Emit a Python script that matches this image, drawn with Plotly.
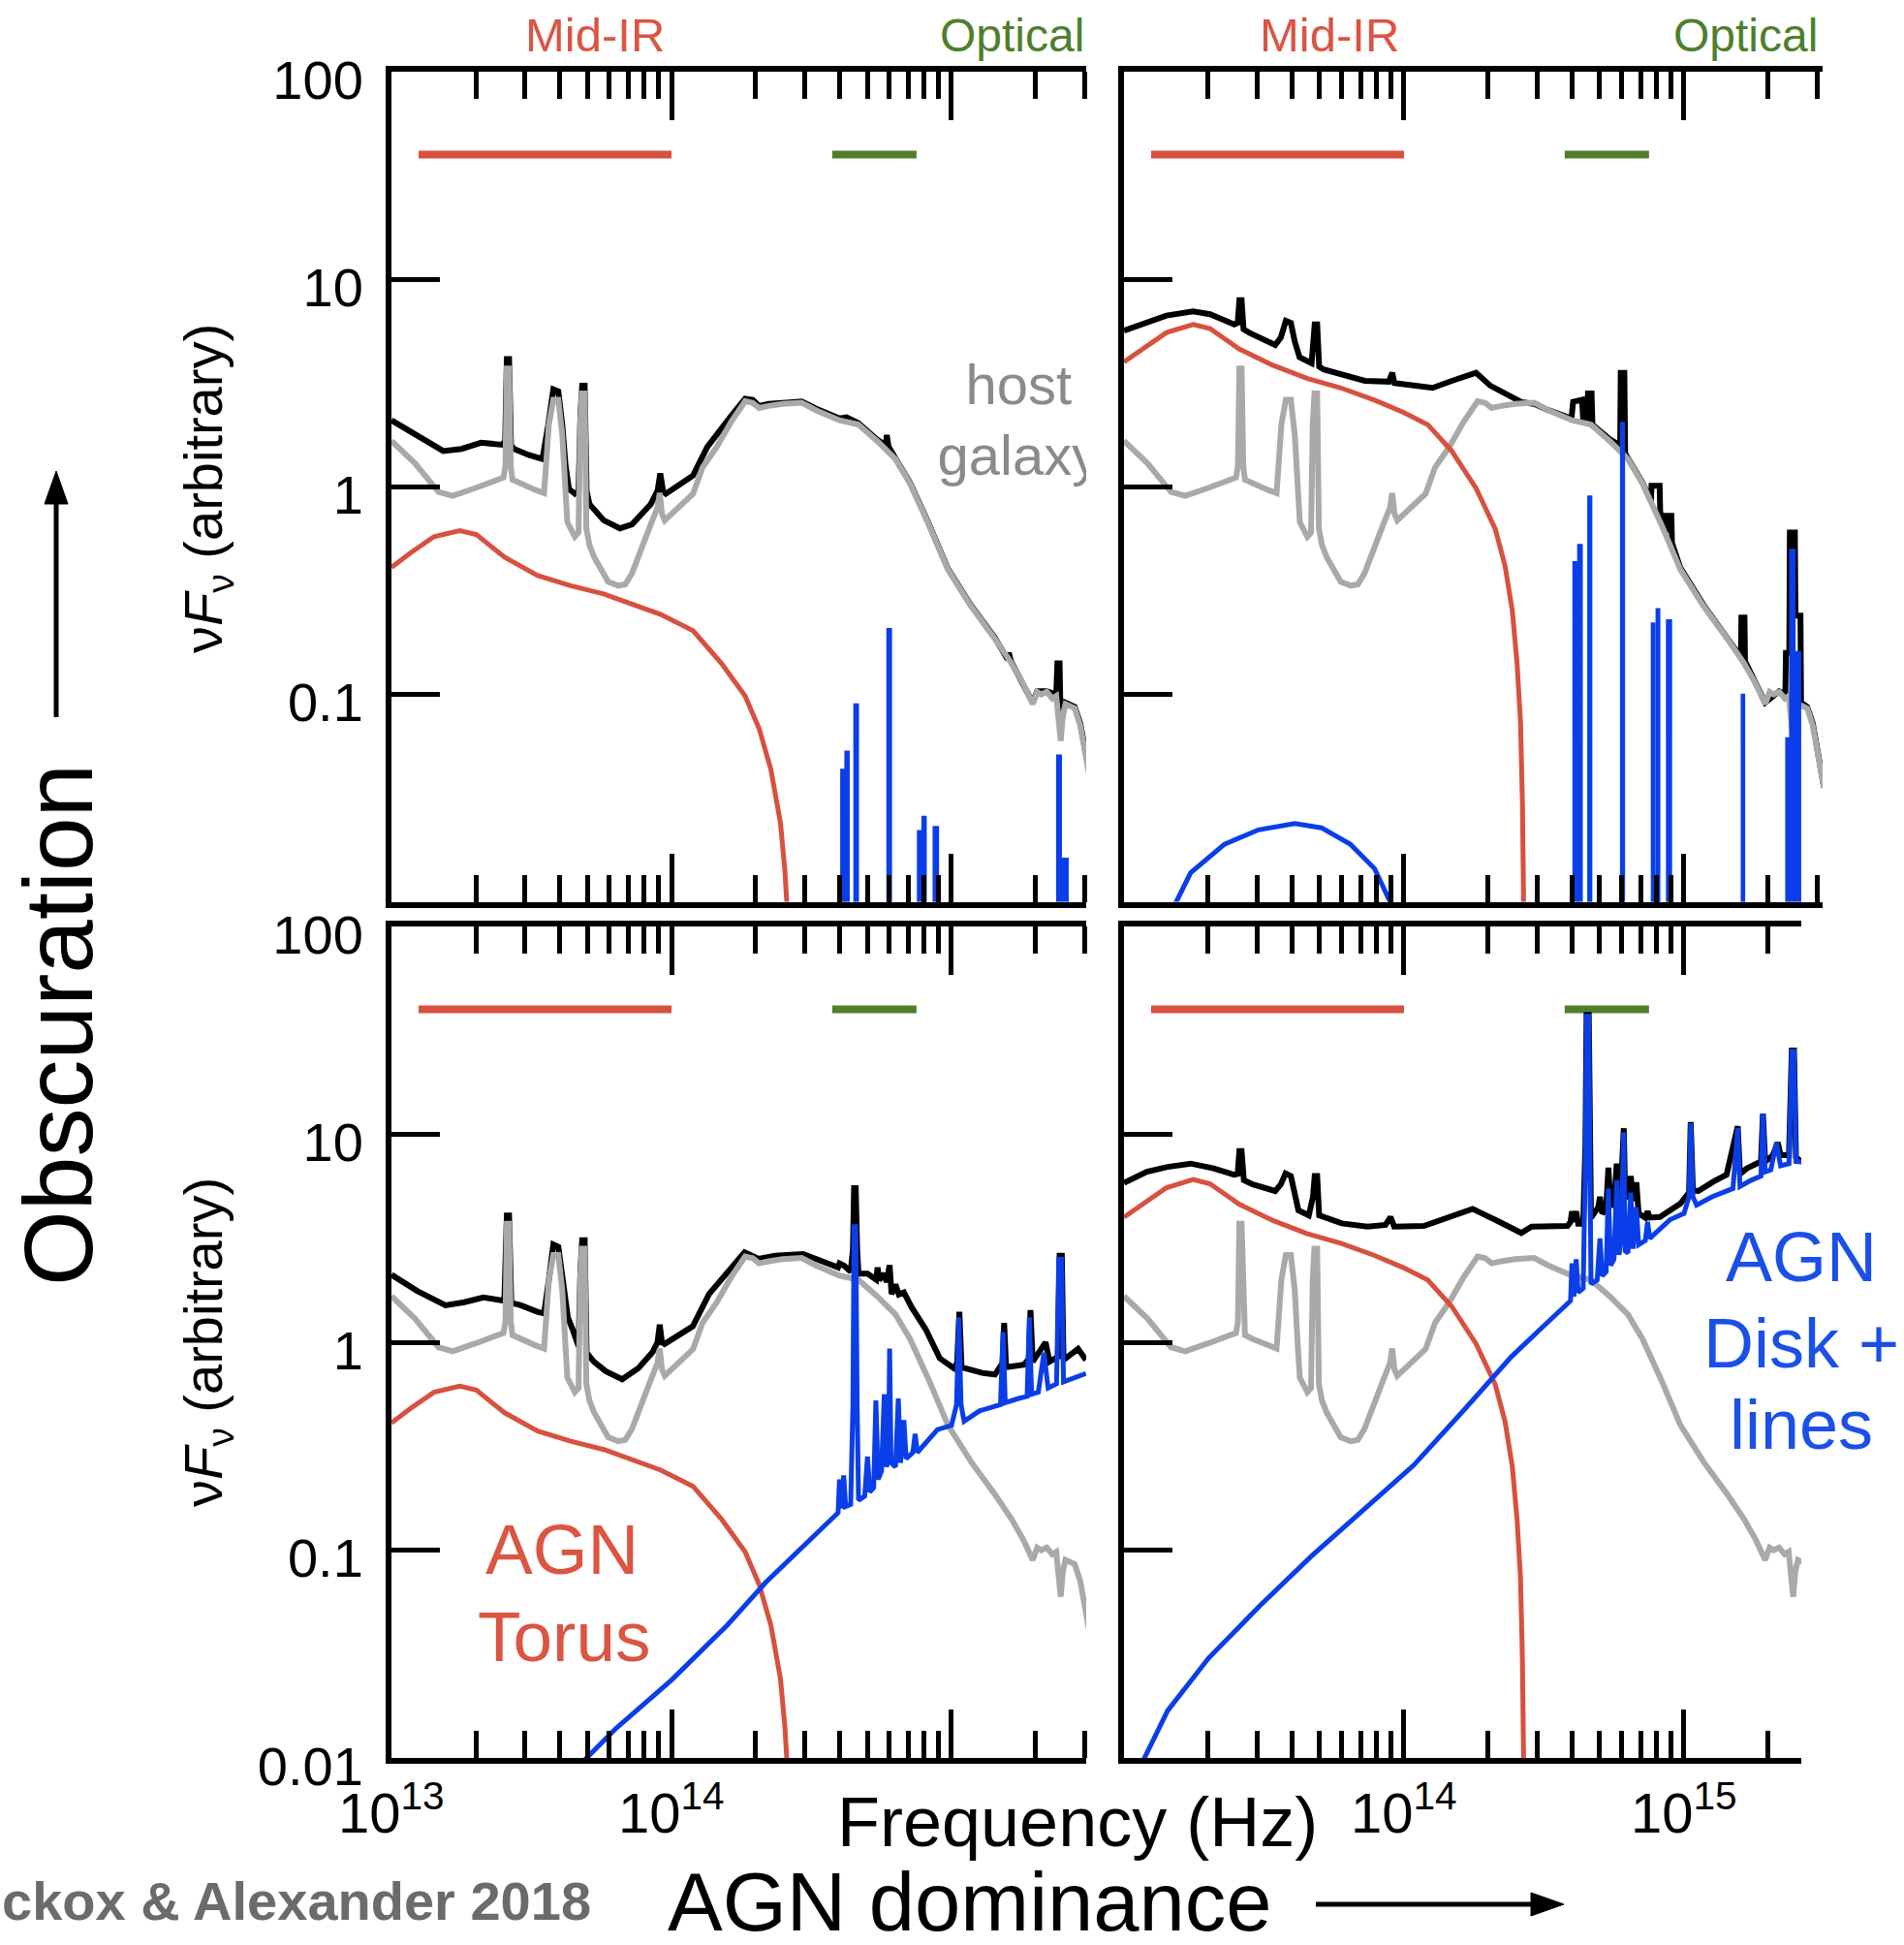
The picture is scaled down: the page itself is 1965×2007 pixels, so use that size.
import numpy as np
import plotly.graph_objects as go

# ---------------- DATA (log10 frequency [Hz], log10 nuF_nu [arbitrary]) ----------------
host_lognu = [13.000, 13.084, 13.168, 13.219, 13.303, 13.370, 13.400, 13.407, 13.412, 13.420, 13.426, 13.432,
              13.460, 13.513, 13.545, 13.562, 13.578, 13.596, 13.610, 13.620, 13.628, 13.655, 13.668, 13.674,
              13.680, 13.690, 13.696, 13.707, 13.724, 13.774, 13.810, 13.835, 13.859, 13.926, 13.950, 13.958,
              13.966, 13.976, 14.027, 14.077, 14.111, 14.162, 14.212, 14.263, 14.290, 14.313, 14.347, 14.397,
              14.465, 14.515, 14.600, 14.667, 14.734, 14.800, 14.852, 14.919, 14.987, 15.070, 15.155, 15.214,
              15.256, 15.290, 15.306, 15.320, 15.340, 15.360, 15.374, 15.383, 15.390, 15.398, 15.407, 15.440,
              15.460, 15.483, 15.500]
host_logf = [0.222, 0.114, -0.024, -0.043, -0.004, 0.035, 0.045, 0.10, 0.57, 0.57, 0.10, 0.035,
             0.016, -0.014, -0.030, 0.30, 0.42, 0.42, 0.25, 0.00, -0.17, -0.24, -0.22, 0.30,
             0.45, 0.45, -0.20, -0.28, -0.339, -0.457, -0.476, -0.470, -0.417, -0.181, -0.100, -0.03,
             -0.13, -0.161, -0.093, -0.033, 0.094, 0.193, 0.311, 0.413, 0.405, 0.380, 0.390, 0.400,
             0.406, 0.370, 0.321, 0.301, 0.222, 0.134, 0.016, -0.181, -0.398, -0.575, -0.732, -0.850,
             -0.949, -1.047, -0.988, -1.000, -0.988, -1.020, -1.008, -1.150, -1.224, -1.100, -1.047, -1.067,
             -1.150, -1.323, -1.450]

torus_lo_lognu = [13.000, 13.067, 13.152, 13.244, 13.303, 13.404, 13.522, 13.640, 13.758, 13.859, 13.960,
                  14.077, 14.178, 14.263, 14.313, 14.355, 14.389, 14.405, 14.416]
torus_lo_logf = [-0.388, -0.319, -0.240, -0.211, -0.230, -0.339, -0.427, -0.476, -0.516, -0.565, -0.614,
                 -0.693, -0.850, -1.008, -1.165, -1.362, -1.618, -1.850, -2.100]

torus_hi_lognu = [13.000, 13.066, 13.152, 13.247, 13.307, 13.411, 13.532, 13.653, 13.774, 13.895, 13.998,
                  14.085, 14.171, 14.257, 14.326, 14.361, 14.387, 14.404, 14.416, 14.423, 14.428]
torus_hi_logf = [0.602, 0.665, 0.744, 0.783, 0.763, 0.665, 0.586, 0.523, 0.477, 0.418, 0.359,
                 0.300, 0.172, -0.006, -0.203, -0.381, -0.598, -0.854, -1.130, -1.525, -2.100]

# top-left panel: total and emission lines
tl_total_lognu = [13.000, 13.084, 13.185, 13.250, 13.320, 13.396, 13.406, 13.412, 13.420, 13.427, 13.438, 13.490,
                  13.539, 13.560, 13.578, 13.596, 13.610, 13.622, 13.634, 13.655, 13.668, 13.675, 13.681, 13.690,
                  13.697, 13.707, 13.758, 13.816, 13.859, 13.926, 13.950, 13.960, 13.970, 13.980, 14.077, 14.128,
                  14.170, 14.212, 14.263, 14.290, 14.313, 14.347, 14.397, 14.465, 14.515, 14.600, 14.625, 14.667,
                  14.734, 14.765, 14.769, 14.775, 14.800, 14.852, 14.919, 14.987, 15.070, 15.155, 15.200, 15.205,
                  15.212, 15.256, 15.290, 15.306, 15.340, 15.374, 15.378, 15.386, 15.390, 15.398, 15.407, 15.440,
                  15.460, 15.483]
tl_total_logf = [0.321, 0.252, 0.173, 0.183, 0.213, 0.203, 0.220, 0.616, 0.616, 0.200, 0.183, 0.154,
                 0.134, 0.300, 0.470, 0.460, 0.300, 0.100, -0.010, -0.033, -0.020, 0.350, 0.488, 0.488,
                 -0.020, -0.083, -0.161, -0.200, -0.181, -0.083, -0.020, 0.065, -0.020, -0.033, 0.055, 0.193,
                 0.270, 0.340, 0.425, 0.420, 0.390, 0.400, 0.405, 0.412, 0.378, 0.330, 0.335, 0.308,
                 0.228, 0.200, 0.250, 0.195, 0.137, 0.020, -0.178, -0.395, -0.572, -0.728, -0.830, -0.800,
                 -0.840, -0.945, -1.040, -0.985, -0.985, -1.000, -0.850, -0.850, -1.150, -1.090, -1.040, -1.060,
                 -1.140, -1.310]
tl_line_lo = [14.605, 14.620, 14.652, 14.770, 14.879, 14.895, 14.935, 15.376, 15.395]
tl_line_hi = [14.618, 14.634, 14.667, 14.785, 14.893, 14.909, 14.953, 15.392, 15.416]
tl_line_peak = [-1.362, -1.274, -1.047, -0.683, -1.657, -1.589, -1.638, -1.293, -1.790]

# top-right panel
tr_total_lognu = [13.000, 13.066, 13.152, 13.247, 13.307, 13.394, 13.406, 13.412, 13.420, 13.427, 13.446, 13.540,
                  13.560, 13.578, 13.596, 13.610, 13.627, 13.670, 13.675, 13.681, 13.690, 13.697, 13.713, 13.791,
                  13.860, 13.946, 13.958, 13.966, 14.102, 14.171, 14.257, 14.309, 14.378, 14.421, 14.465, 14.515,
                  14.598, 14.604, 14.636, 14.640, 14.655, 14.657, 14.670, 14.673, 14.734, 14.772, 14.774, 14.787,
                  14.790, 14.852, 14.882, 14.884, 14.913, 14.915, 14.936, 14.938, 14.955, 14.957, 14.987, 15.070,
                  15.155, 15.203, 15.205, 15.216, 15.218, 15.256, 15.290, 15.340, 15.362, 15.364, 15.376, 15.378,
                  15.396, 15.398, 15.416, 15.418, 15.440, 15.460, 15.500]
tr_total_logf = [0.753, 0.783, 0.826, 0.846, 0.832, 0.783, 0.790, 0.900, 0.900, 0.760, 0.744, 0.684,
                 0.720, 0.800, 0.790, 0.700, 0.625, 0.596, 0.700, 0.783, 0.783, 0.580, 0.566, 0.536,
                 0.511, 0.507, 0.550, 0.500, 0.477, 0.511, 0.550, 0.487, 0.438, 0.408, 0.400, 0.370,
                 0.330, 0.410, 0.420, 0.320, 0.310, 0.450, 0.450, 0.300, 0.230, 0.200, 0.550, 0.550,
                 0.160, 0.020, -0.070, 0.005, 0.005, -0.120, -0.220, -0.140, -0.140, -0.270, -0.390, -0.570,
                 -0.730, -0.820, -0.630, -0.630, -0.840, -0.945, -1.040, -0.985, -1.000, -0.800, -0.800, -0.220,
                 -0.220, -0.620, -0.620, -1.040, -1.060, -1.140, -1.450]
tr_disk_lognu = [13.150, 13.238, 13.359, 13.480, 13.610, 13.705, 13.808, 13.895, 13.985]
tr_disk_logf = [-2.100, -1.860, -1.722, -1.653, -1.623, -1.643, -1.722, -1.840, -2.100]
tr_line_lo = [14.604, 14.621, 14.657, 14.774, 14.884, 14.901, 14.938, 15.205, 15.364, 15.378, 15.398]
tr_line_hi = [14.619, 14.636, 14.670, 14.787, 14.895, 14.913, 14.955, 15.216, 15.376, 15.396, 15.416]
tr_line_peak = [-0.361, -0.278, -0.045, 0.310, -0.657, -0.588, -0.641, -1.000, -1.210, -0.302, -0.795]

# bottom-left panel
bl_total_lognu = [13.000, 13.092, 13.193, 13.260, 13.328, 13.403, 13.412, 13.420, 13.428, 13.462, 13.521, 13.545,
                  13.562, 13.578, 13.596, 13.612, 13.630, 13.647, 13.668, 13.675, 13.681, 13.690, 13.697, 13.723,
                  13.765, 13.824, 13.882, 13.933, 13.950, 13.958, 13.966, 13.975, 14.076, 14.134, 14.202, 14.261,
                  14.311, 14.370, 14.470, 14.538, 14.595, 14.600, 14.615, 14.640, 14.648, 14.652, 14.658, 14.663,
                  14.668, 14.700, 14.731, 14.736, 14.742, 14.760, 14.768, 14.779, 14.786, 14.800, 14.812, 14.830,
                  14.857, 14.908, 14.958, 15.008, 15.020, 15.028, 15.036, 15.065, 15.109, 15.155, 15.182, 15.188,
                  15.195, 15.259, 15.276, 15.282, 15.290, 15.336, 15.350, 15.380, 15.386, 15.394, 15.400, 15.452,
                  15.480]
bl_total_logf = [0.325, 0.247, 0.178, 0.193, 0.216, 0.200, 0.610, 0.610, 0.190, 0.178, 0.147, 0.139,
                 0.300, 0.471, 0.460, 0.300, 0.120, 0.062, -0.020, 0.350, 0.491, 0.491, -0.050, -0.093,
                 -0.139, -0.178, -0.124, -0.046, 0.000, 0.085, 0.000, -0.008, 0.077, 0.232, 0.340, 0.433,
                 0.402, 0.417, 0.425, 0.386, 0.360, 0.380, 0.370, 0.340, 0.450, 0.742, 0.742, 0.450,
                 0.330, 0.330, 0.301, 0.360, 0.300, 0.330, 0.290, 0.371, 0.232, 0.278, 0.230, 0.240,
                 0.170, 0.062, -0.077, -0.124, -0.100, 0.147, -0.120, -0.131, -0.147, -0.155, -0.100, 0.093,
                 -0.120, -0.108, -0.080, 0.155, -0.093, 0.000, -0.093, -0.070, 0.417, 0.417, -0.085, -0.031,
                 -0.085]
bl_disk_lognu = [13.660, 13.800, 14.000, 14.200, 14.336, 14.500, 14.595, 14.600, 14.607, 14.615, 14.622, 14.640,
                 14.648, 14.652, 14.658, 14.663, 14.668, 14.690, 14.700, 14.708, 14.722, 14.730, 14.738, 14.750,
                 14.760, 14.768, 14.775, 14.779, 14.784, 14.800, 14.810, 14.818, 14.830, 14.838, 14.862, 14.870,
                 14.878, 14.950, 15.000, 15.018, 15.026, 15.034, 15.045, 15.100, 15.175, 15.184, 15.192, 15.240,
                 15.270, 15.278, 15.286, 15.310, 15.330, 15.345, 15.375, 15.383, 15.393, 15.400, 15.480]
bl_disk_logf = [-2.050, -1.860, -1.625, -1.360, -1.156, -0.940, -0.820, -0.660, -0.800, -0.640, -0.790, -0.780,
                -0.300, 0.556, 0.556, -0.300, -0.760, -0.740, -0.550, -0.720, -0.700, -0.280, -0.660, -0.620,
                -0.250, -0.600, -0.550, -0.030, -0.580, -0.600, -0.270, -0.580, -0.375, -0.560, -0.530, -0.440,
                -0.530, -0.420, -0.400, -0.300, 0.120, -0.300, -0.380, -0.330, -0.300, 0.050, -0.290, -0.270,
                -0.260, 0.120, -0.250, -0.240, -0.050, -0.220, -0.200, 0.400, 0.400, -0.190, -0.150]

# bottom-right panel
br_total_lognu = [13.000, 13.082, 13.156, 13.238, 13.320, 13.394, 13.406, 13.412, 13.420, 13.428, 13.460, 13.540,
                  13.560, 13.577, 13.596, 13.610, 13.623, 13.660, 13.675, 13.681, 13.690, 13.697, 13.778, 13.870,
                  13.934, 13.952, 13.965, 14.071, 14.181, 14.245, 14.328, 14.419, 14.456, 14.584, 14.595, 14.600,
                  14.607, 14.615, 14.622, 14.640, 14.648, 14.652, 14.660, 14.664, 14.668, 14.694, 14.700, 14.708,
                  14.722, 14.730, 14.738, 14.750, 14.760, 14.768, 14.775, 14.785, 14.790, 14.800, 14.810, 14.818,
                  14.830, 14.838, 14.862, 14.870, 14.878, 14.914, 14.950, 14.987, 15.018, 15.024, 15.032, 15.051,
                  15.106, 15.152, 15.192, 15.200, 15.225, 15.275, 15.282, 15.290, 15.317, 15.335, 15.345, 15.375,
                  15.385, 15.393, 15.400, 15.420]
br_total_logf = [0.767, 0.821, 0.844, 0.860, 0.837, 0.806, 0.810, 0.920, 0.920, 0.780, 0.760, 0.728,
                 0.760, 0.813, 0.800, 0.700, 0.635, 0.611, 0.700, 0.800, 0.800, 0.611, 0.572, 0.557,
                 0.565, 0.603, 0.557, 0.560, 0.611, 0.642, 0.588, 0.526, 0.557, 0.560, 0.580, 0.630,
                 0.580, 0.630, 0.570, 0.570, 0.950, 1.575, 1.575, 0.950, 0.600, 0.650, 0.700, 0.620,
                 0.640, 0.840, 0.660, 0.660, 0.860, 0.700, 0.740, 1.030, 0.700, 0.700, 0.800, 0.680,
                 0.770, 0.620, 0.600, 0.630, 0.600, 0.603, 0.635, 0.667, 0.720, 1.060, 0.730, 0.728,
                 0.774, 0.806, 1.040, 0.810, 0.837, 0.870, 1.100, 0.870, 0.899, 0.961, 0.900, 0.900,
                 1.404, 1.404, 0.890, 0.868]
br_disk_lognu = [13.055, 13.156, 13.302, 13.485, 13.668, 13.852, 14.035, 14.218, 14.383, 14.500, 14.595, 14.600,
                 14.607, 14.615, 14.622, 14.640, 14.648, 14.652, 14.660, 14.664, 14.668, 14.690, 14.700, 14.708,
                 14.722, 14.730, 14.738, 14.750, 14.760, 14.768, 14.775, 14.785, 14.790, 14.800, 14.810, 14.818,
                 14.830, 14.838, 14.862, 14.870, 14.878, 14.950, 15.000, 15.018, 15.024, 15.032, 15.045, 15.100,
                 15.175, 15.192, 15.200, 15.240, 15.275, 15.282, 15.290, 15.310, 15.330, 15.345, 15.375, 15.385,
                 15.393, 15.400, 15.420]
br_disk_logf = [-2.050, -1.772, -1.520, -1.268, -1.031, -0.811, -0.591, -0.320, -0.070, 0.080, 0.200, 0.380,
                0.220, 0.400, 0.240, 0.260, 0.900, 1.568, 1.568, 0.900, 0.280, 0.300, 0.500, 0.320,
                0.340, 0.740, 0.370, 0.400, 0.780, 0.420, 0.500, 1.010, 0.440, 0.430, 0.720, 0.450,
                0.650, 0.470, 0.490, 0.580, 0.500, 0.590, 0.620, 0.700, 1.054, 0.700, 0.660, 0.700,
                0.740, 1.030, 0.750, 0.780, 0.800, 1.100, 0.820, 0.830, 0.960, 0.850, 0.860, 1.400,
                1.400, 0.870, 0.868]

# wavelength bands marked at the top of each panel
midir_band = [1.25e13, 1.0e14]
optical_band = [3.75e14, 7.5e14]
band_level = [40, 40]

# axis ticks and labels
major_ticks_x = [1e13, 1e14, 1e15]
minor_ticks_x = [2e13, 3e13, 4e13, 5e13, 6e13, 7e13, 8e13, 9e13,
                 2e14, 3e14, 4e14, 5e14, 6e14, 7e14, 8e14, 9e14,
                 2e15, 3e15]
ticks_y_top = [0.1, 1, 10, 100]
ylabels_top = ["0.1", "1", "10", "100"]
ticks_y_bottom = [0.01, 0.1, 1, 10, 100]
ylabels_bottom = ["0.01", "0.1", "1", "10", "100"]
xlabel_pos_bl = [13, 14]
xlabels_bl = ["10<sup>13</sup>", "10<sup>14</sup>"]
xlabel_pos_br = [14, 15]
xlabels_br = ["10<sup>14</sup>", "10<sup>15</sup>"]

# ---------------- STYLE ----------------
W, H = 1965, 2007
FONT = "Liberation Sans, Arial, Helvetica, sans-serif"
C_BLACK = "#000000"
C_GRAY = "#a9a9a9"
C_RED = "#d8503f"
C_BLUE = "#0a3ee8"
C_GREEN = "#4f7f2c"
C_TXT_RED = "#dc5442"
C_TXT_BLUE = "#1a4fe8"


def lin(a):
    return np.power(10.0, np.asarray(a, dtype=float))


def line_path(lo, hi, peak, floor=-3.0):
    xs, ys = [], []
    for a, b, p in zip(lo, hi, peak):
        xs += [a, a, b, b]
        ys += [floor, p, p, floor]
    return lin(xs), lin(ys)


fig = go.Figure()


def add_line(x, y, xa, ya, color, width, **kw):
    fig.add_trace(go.Scatter(x=x, y=y, xaxis=xa, yaxis=ya, mode="lines",
                             line=dict(color=color, width=width), hoverinfo="skip",
                             showlegend=False, **kw))


panels = [
    dict(xa="x", ya="y", total=(tl_total_lognu, tl_total_logf), torus=(torus_lo_lognu, torus_lo_logf),
         disk=None, lines=(tl_line_lo, tl_line_hi, tl_line_peak)),
    dict(xa="x2", ya="y2", total=(tr_total_lognu, tr_total_logf), torus=(torus_hi_lognu, torus_hi_logf),
         disk=(tr_disk_lognu, tr_disk_logf), lines=(tr_line_lo, tr_line_hi, tr_line_peak)),
    dict(xa="x3", ya="y3", total=(bl_total_lognu, bl_total_logf), torus=(torus_lo_lognu, torus_lo_logf),
         disk=(bl_disk_lognu, bl_disk_logf), lines=None),
    dict(xa="x4", ya="y4", total=(br_total_lognu, br_total_logf), torus=(torus_hi_lognu, torus_hi_logf),
         disk=(br_disk_lognu, br_disk_logf), lines=None),
]

for p in panels:
    xa, ya = p["xa"], p["ya"]
    add_line(midir_band, band_level, xa, ya, C_RED, 8)
    add_line(optical_band, band_level, xa, ya, C_GREEN, 8)
    add_line(lin(p["total"][0]), lin(p["total"][1]), xa, ya, C_BLACK, 6)
    add_line(lin(host_lognu), lin(host_logf), xa, ya, C_GRAY, 6)
    add_line(lin(p["torus"][0]), lin(p["torus"][1]), xa, ya, C_RED, 5)
    if p["disk"] is not None:
        add_line(lin(p["disk"][0]), lin(p["disk"][1]), xa, ya, C_BLUE, 5)
    if p["lines"] is not None:
        lx, ly = line_path(*p["lines"])
        add_line(lx, ly, xa, ya, C_BLUE, 1.5, fill="toself", fillcolor=C_BLUE)

# "host galaxy" label, clipped by the top-left panel like in the original
fig.add_trace(go.Scatter(x=[10 ** 15.24, 10 ** 15.24], y=[10 ** 0.467, 10 ** 0.126], xaxis="x", yaxis="y",
                         mode="text", text=["host", "galaxy"], textposition="middle center",
                         textfont=dict(family=FONT, size=58, color="#8a8a8a"), cliponaxis=True,
                         hoverinfo="skip", showlegend=False))


# ---------------- AXES ----------------
def xax(domain, rng, anchor):
    return dict(type="log", domain=domain, range=rng, anchor=anchor, automargin=False,
                showline=True, linewidth=6, linecolor="black", mirror="ticks",
                ticks="inside", ticklen=50, tickwidth=5, tickcolor="black",
                tickmode="array", tickvals=major_ticks_x, showticklabels=False,
                showgrid=False, zeroline=False,
                minor=dict(tickmode="array", tickvals=minor_ticks_x, ticks="inside", ticklen=28,
                           tickwidth=5, tickcolor="black", showgrid=False),
                fixedrange=True)


def yax(domain, anchor, vals, labels):
    d = dict(type="log", domain=domain, range=[-2, 2], anchor=anchor, automargin=False,
             showline=True, linewidth=6, linecolor="black", mirror=False,
             ticks="inside", ticklen=50, tickwidth=5, tickcolor="black",
             tickmode="array", tickvals=vals, showgrid=False, zeroline=False, fixedrange=True)
    if labels is None:
        d["showticklabels"] = False
    else:
        d["ticktext"] = labels
        d["tickfont"] = dict(family=FONT, size=56, color="black")
        d["ticklabelstandoff"] = 12
        d["ticklabelshift"] = 8
    return d


xl = [404 / W, 1121 / W]
xr = [1160 / W, 1881 / W]
xr4 = [1160 / W, 1859 / W]
yt = [1 - 930.6 / H, 1 - 74.2 / H]
yb = [1 - 1814 / H, 1 - 956.2 / H]

fig.update_layout(
    xaxis=xax(xl, [13, 15.481], "y"),
    xaxis2=xax(xr, [13, 15.495], "y2"),
    xaxis3=xax(xl, [13, 15.481], "y3"),
    xaxis4=xax(xr4, [13, 15.419], "y4"),
    yaxis=yax(yt, "x", ticks_y_top, ylabels_top),
    yaxis2=yax(yt, "x2", ticks_y_top, None),
    yaxis3=yax(yb, "x3", ticks_y_bottom, ylabels_bottom),
    yaxis4=yax(yb, "x4", ticks_y_bottom, None),
)

# ---------------- TEXT ----------------
ann = []


def text(t, x, y, size, color="black", xanchor="center", angle=0, xref="paper"):
    ann.append(dict(text=t, x=x, y=y, xref=xref, yref="paper", showarrow=False,
                    xanchor=xanchor, yanchor="middle", textangle=angle,
                    font=dict(family=FONT, size=size, color=color)))


# x tick labels placed on the axis scale (log10 units for log axes)
for pos, lab in zip(xlabel_pos_bl, xlabels_bl):
    text(lab, pos, 1 - 1866 / H, 58, xref="x3")
for pos, lab in zip(xlabel_pos_br, xlabels_br):
    text(lab, pos, 1 - 1866 / H, 58, xref="x4")

text("Mid-IR", 614 / W, 1 - 36 / H, 49, C_TXT_RED)
text("Optical", 1121 / W, 1 - 36 / H, 48, C_GREEN, xanchor="right")
text("Mid-IR", 1372 / W, 1 - 36 / H, 49, C_TXT_RED)
text("Optical", 1878 / W, 1 - 36 / H, 48, C_GREEN, xanchor="right")

text("\u03bd<i>F</i><sub>\u03bd</sub> (arbitrary)", 213 / W, 1 - 504 / H, 56, angle=-90)
text("\u03bd<i>F</i><sub>\u03bd</sub> (arbitrary)", 213 / W, 1 - 1385 / H, 56, angle=-90)

text("Frequency (Hz)", 1112 / W, 1 - 1880 / H, 72)
text("AGN dominance", 1001 / W, 1 - 1962 / H, 85)
text("Obscuration", 60 / W, 1 - 1058 / H, 100, angle=-90)
text("<b>ckox & Alexander 2018</b>", 0.0, 1 - 1961 / H, 56, "#6b6b6b", xanchor="left")

text("AGN", 580 / W, 1 - 1598 / H, 73, C_TXT_RED)
text("Torus", 582 / W, 1 - 1688 / H, 73, C_TXT_RED)
text("AGN", 1859 / W, 1 - 1297 / H, 72, C_TXT_BLUE)
text("Disk +", 1859 / W, 1 - 1386 / H, 72, C_TXT_BLUE)
text("lines", 1859 / W, 1 - 1470 / H, 72, C_TXT_BLUE)


# arrows drawn as shapes (paper coordinates)
def px(x):
    return x / W


def py(y):
    return 1 - y / H


shapes = [
    # horizontal arrow after "AGN dominance"
    dict(type="line", xref="paper", yref="paper", x0=px(1358), y0=py(1965), x1=px(1590), y1=py(1965),
         line=dict(color="black", width=5)),
    dict(type="path", xref="paper", yref="paper",
         path=f"M {px(1614)},{py(1965)} L {px(1580)},{py(1953)} L {px(1580)},{py(1977)} Z",
         fillcolor="black", line=dict(color="black", width=1)),
    # vertical arrow above "Obscuration"
    dict(type="line", xref="paper", yref="paper", x0=px(58), y0=py(740), x1=px(58), y1=py(505),
         line=dict(color="black", width=5)),
    dict(type="path", xref="paper", yref="paper",
         path=f"M {px(58)},{py(486)} L {px(46)},{py(520)} L {px(70)},{py(520)} Z",
         fillcolor="black", line=dict(color="black", width=1)),
]

fig.update_layout(
    annotations=ann,
    shapes=shapes,
    width=W, height=H,
    margin=dict(l=0, r=0, t=0, b=0, pad=0, autoexpand=False),
    paper_bgcolor="white", plot_bgcolor="white",
    showlegend=False,
    font=dict(family=FONT, color="black"),
)

fig.write_html("out.html", config={"displayModeBar": False},
               post_script="document.body.style.margin='0px';")
